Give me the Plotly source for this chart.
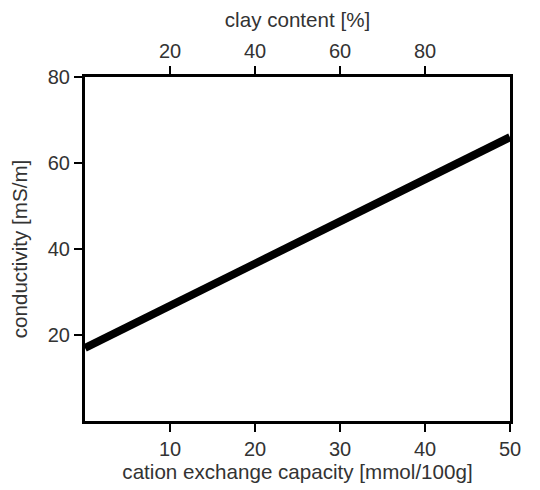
import plotly.graph_objects as go

# values
cec = [0, 50]                 # cation exchange capacity [mmol/100g]
conductivity = [17, 66]       # conductivity [mS/m]
cec_ticks = [10, 20, 30, 40, 50]
clay_ticks = [20, 40, 60, 80]
cond_ticks = [20, 40, 60, 80]

txt = "#333333"
fnt = dict(family="Liberation Sans, Arial, sans-serif", size=20, color=txt)
title_fnt = dict(fnt, size=20.6)

fig = go.Figure()
fig.add_trace(go.Scatter(x=cec, y=conductivity, mode="lines",
                         line=dict(color="black", width=8), showlegend=False))
# invisible trace so the top axis shows up
fig.add_trace(go.Scatter(x=[0, 100], y=[0, 0], xaxis="x2", mode="lines",
                         line=dict(width=0), hoverinfo="skip", showlegend=False))

axis_common = dict(showgrid=False, zeroline=False, showline=True, linecolor="black",
                   linewidth=3, ticks="outside", ticklen=8, tickwidth=2,
                   tickcolor="black", tickfont=fnt, automargin=False)

# page body has an 8px margin, so margins are shifted by that
fig.update_layout(
    width=540, height=490,
    margin=dict(l=77, r=38, t=69, b=77),
    paper_bgcolor="white", plot_bgcolor="white",
    font=fnt,
    xaxis=dict(range=[0, 50], tickvals=cec_ticks,
               title=dict(text="cation exchange capacity [mmol/100g]", font=title_fnt, standoff=1),
               **axis_common),
    xaxis2=dict(range=[0, 100], tickvals=clay_ticks, overlaying="x", side="top",
                title=dict(text="clay content [%]", font=title_fnt, standoff=9),
                **axis_common),
    yaxis=dict(range=[0, 80], tickvals=cond_ticks, mirror=True,
               title=dict(text="conductivity [mS/m]", font=title_fnt, standoff=19),
               **axis_common),
)

fig.write_html("out.html")
